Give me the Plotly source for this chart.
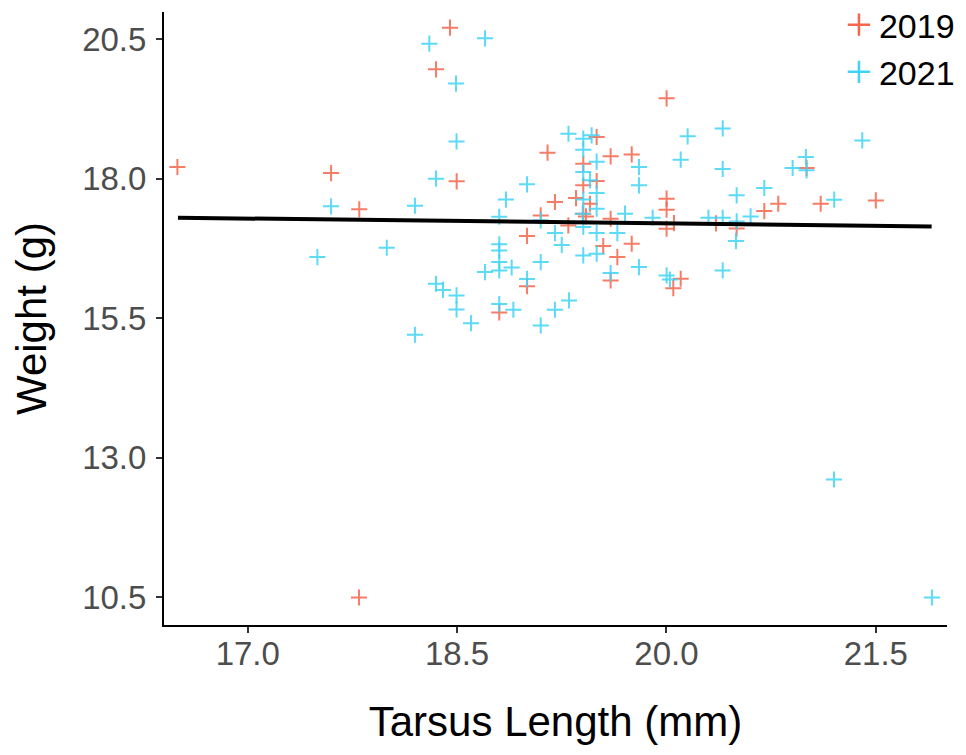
import plotly.graph_objects as go

# ---- data ----
tarsus_2019 = [18.449, 18.349, 16.496, 17.597, 18.497, 17.799, 20.001, 19.500, 19.148, 19.600,
               19.751, 19.404, 19.500, 19.404, 19.201, 19.352, 19.452, 20.001, 20.001, 19.404,
               19.099, 19.600, 20.054, 20.355, 19.297, 20.001, 19.001, 19.547, 19.751, 19.648,
               19.600, 19.001, 20.102, 20.049, 18.802, 20.801, 20.701, 21.105, 21.500, 21.004,
               17.797, 20.503, 19.423]
weight_2019 = [20.706, 19.959, 18.208, 18.100, 17.952, 17.450, 19.439, 18.746, 18.466, 18.400,
               18.435, 18.269, 17.957, 17.880, 17.581, 17.652, 17.552, 17.642, 17.444, 17.373,
               17.342, 17.283, 17.204, 17.199, 17.163, 17.104, 16.975, 16.792, 16.835, 16.595,
               16.177, 16.073, 16.208, 16.039, 15.604, 17.552, 17.419, 17.552, 17.611, 18.190,
               10.496, 17.109, 17.324]

tarsus_2021 = [18.301, 18.700, 18.492, 18.496, 18.349, 17.597, 18.198, 17.996, 17.499, 18.349,
               18.399, 18.496, 18.496, 18.198, 19.298, 19.404, 19.464, 19.404, 19.500, 19.803,
               20.102, 20.152, 20.403, 20.403, 19.404, 19.001, 19.452, 19.500, 19.803, 18.850,
               19.404, 19.500, 19.703, 18.802, 19.099, 19.901, 20.301, 20.403, 20.503, 19.404,
               19.201, 19.500, 19.648, 19.250, 20.498, 18.802, 18.802, 19.500, 19.404, 18.802,
               19.099, 18.891, 18.700, 18.802, 19.803, 20.403, 19.600, 19.001, 20.001, 18.802,
               18.903, 19.201, 19.302, 18.600, 19.099, 21.403, 20.999, 20.904, 21.004, 20.701,
               20.503, 21.202, 20.603, 21.200, 21.902, 20.025, 19.400]
weight_2021 = [20.419, 20.514, 19.703, 18.668, 18.000, 17.504, 17.516, 16.763, 16.595, 16.118,
               16.007, 15.909, 15.658, 15.204, 18.806, 18.717, 18.776, 18.520, 18.305, 18.208,
               18.341, 18.758, 18.901, 18.172, 18.118, 17.898, 17.970, 17.742, 17.880, 17.625,
               17.629, 17.462, 17.373, 17.319, 17.253, 17.301, 17.301, 17.301, 17.235, 17.133,
               17.025, 17.025, 17.025, 16.814, 16.882, 16.823, 16.715, 16.656, 16.625, 16.505,
               16.505, 16.410, 16.326, 16.357, 16.416, 16.357, 16.308, 16.204, 16.267, 15.753,
               15.652, 15.652, 15.819, 15.412, 15.371, 18.686, 18.387, 18.190, 18.149, 17.832,
               17.701, 17.624, 17.324, 12.611, 10.498, 16.195, 17.373]

fit_x = [16.50, 21.90]
fit_y = [17.30, 17.145]

series = [("2019", tarsus_2019, weight_2019, "#F4654C"),
          ("2021", tarsus_2021, weight_2021, "#3FD3F5")]

x_ticks = [17.0, 18.5, 20.0, 21.5]
y_ticks = [10.5, 13.0, 15.5, 18.0, 20.5]

# ---- figure ----
fig = go.Figure()
for name, xs, ys, col in series:
    fig.add_trace(go.Scatter(
        x=xs, y=ys, mode="markers", name=name, showlegend=False, legendgroup=name,
        marker=dict(symbol="cross-thin-open", size=11.5, color=col, opacity=0.85,
                    line=dict(width=2, color=col)),
    ))

fig.add_trace(go.Scatter(x=fit_x, y=fit_y, mode="lines", showlegend=False,
                         line=dict(color="black", width=4)))

# legend entries (larger symbols, no data points)
for name, xs, ys, col in series:
    fig.add_trace(go.Scatter(
        x=[None], y=[None], mode="markers", name=name, legendgroup=name,
        marker=dict(symbol="cross-thin-open", size=30, color=col,
                    line=dict(width=2.5, color=col)),
    ))

font_family = "Liberation Sans, Arial, Helvetica, sans-serif"
fig.update_layout(
    width=950, height=739,
    margin=dict(l=156, r=11, t=4, b=122, autoexpand=False),
    paper_bgcolor="white", plot_bgcolor="white",
    font=dict(family=font_family, color="black"),
    showlegend=True,
    legend=dict(x=0.862, y=1.026, xanchor="left", yanchor="top",
                font=dict(size=34, color="black"), bgcolor="rgba(0,0,0,0)",
                itemsizing="trace", tracegroupgap=0),
    xaxis=dict(
        range=[16.40, 22.01], tickvals=x_ticks, ticktext=[f"{v:.1f}" for v in x_ticks],
        showgrid=False, zeroline=False, showline=True, linecolor="black", linewidth=2,
        ticks="outside", ticklen=6, tickwidth=2, tickcolor="#333333",
        tickfont=dict(size=33, color="#4D4D4D"), automargin=False, ticklabelstandoff=-8,
        title=dict(text="Tarsus Length (mm)", font=dict(size=42, color="black"), standoff=36),
    ),
    yaxis=dict(
        range=[10.004, 20.986], tickvals=y_ticks, ticktext=[f"{v:.1f}" for v in y_ticks],
        showgrid=False, zeroline=False, showline=True, linecolor="black", linewidth=2,
        ticks="outside", ticklen=6, tickwidth=2, tickcolor="#333333",
        tickfont=dict(size=33, color="#4D4D4D"), automargin=False, ticklabelstandoff=3,
        title=dict(text="Weight (g)", font=dict(size=42, color="black"), standoff=22),
    ),
)

fig.write_html("out.html")
